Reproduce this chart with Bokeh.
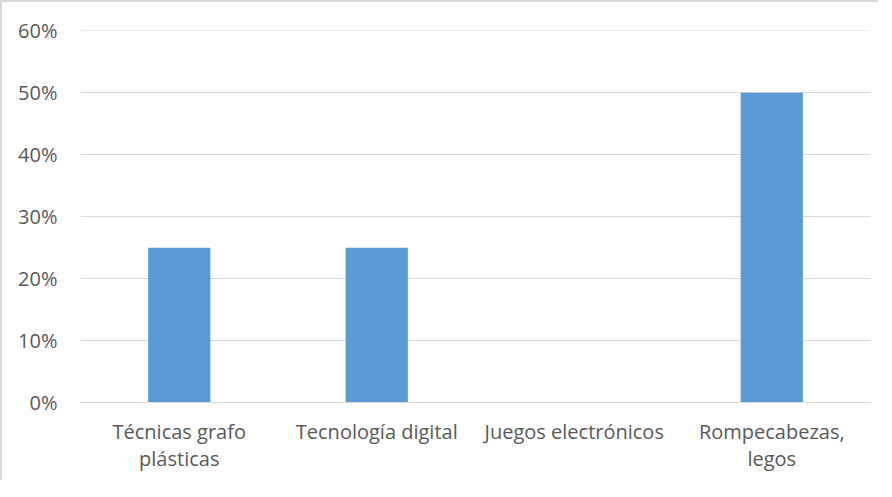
from bokeh.plotting import figure
from bokeh.models import ColumnDataSource, NumeralTickFormatter, FixedTicker
from bokeh.embed import file_html
from bokeh.resources import INLINE

categories = ["Técnicas grafo\nplásticas", "Tecnología digital", "Juegos electrónicos", "Rompecabezas,\nlegos"]
values = [0.25, 0.25, 0.0, 0.50]
y_ticks = [0, 0.1, 0.2, 0.3, 0.4, 0.5, 0.6]

src = ColumnDataSource(dict(cat=categories, val=values))

p = figure(x_range=categories, y_range=(0, 0.6005), width=878, height=480,
           output_backend="svg", toolbar_location=None,
           min_border_left=78, min_border_right=10, min_border_top=28, min_border_bottom=80)
p.styles = {"border-left": "2px solid #d9d9d9", "border-top": "2px solid #d9d9d9"}
p.vbar(x="cat", top="val", width=0.315, source=src, fill_color="#5B9BD5", line_color=None)

p.outline_line_color = None
p.xgrid.grid_line_color = None
p.ygrid.grid_line_color = "#d9d9d9"
p.ygrid.grid_line_width = 1
p.yaxis.ticker = FixedTicker(ticks=y_ticks)
p.yaxis.formatter = NumeralTickFormatter(format="0%")
p.yaxis.axis_line_color = None
p.yaxis.major_tick_line_color = None
p.yaxis.minor_tick_line_color = None
p.xaxis.major_tick_line_color = None
p.xaxis.axis_line_color = "#d9d9d9"
for ax in (p.xaxis, p.yaxis):
    ax.major_label_text_font = "Open Sans"
    ax.major_label_text_font_size = "20px"
    ax.major_label_text_color = "#595959"
p.xaxis.major_label_text_line_height = 1.0
p.yaxis.major_label_standoff = 17
p.xaxis.major_label_standoff = 9
p.x_range.range_padding = 0
p.x_range.factor_padding = 0

open("out.html", "w").write(file_html(p, INLINE))
